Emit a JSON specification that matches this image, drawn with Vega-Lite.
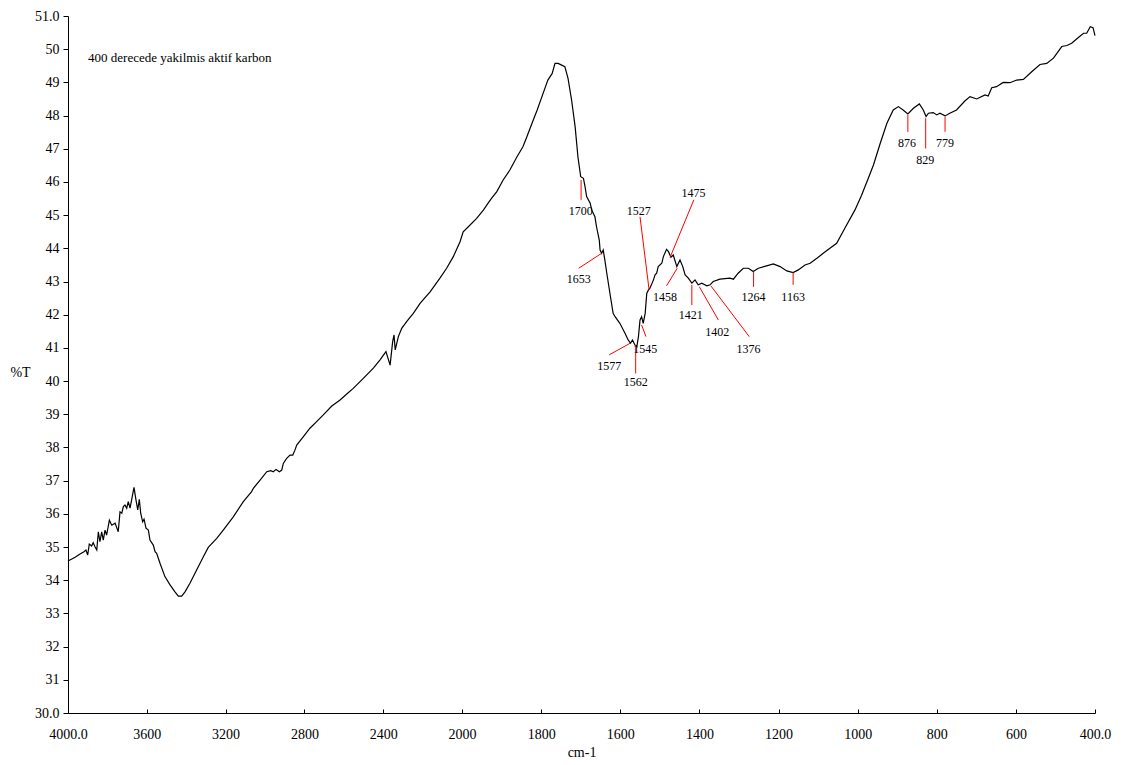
{
  "$schema": "https://vega.github.io/schema/vega-lite/v6.json",
  "width": 1027,
  "height": 697,
  "autosize": {"type": "none"},
  "padding": {"left": 68, "top": 16, "right": 36, "bottom": 52},
  "background": "white",
  "config": {
    "view": {"stroke": null},
    "font": "Liberation Serif",
    "axis": {
      "grid": false,
      "domainColor": "#000000",
      "tickColor": "#000000",
      "labelColor": "#000000",
      "titleColor": "#000000",
      "labelFont": "Liberation Serif",
      "titleFont": "Liberation Serif",
      "labelFontSize": 14,
      "titleFontSize": 14,
      "titleFontWeight": "normal",
      "labelFlush": false,
      "labelOverlap": false
    }
  },
  "datasets": {
    "spectrum": [
      {"wn": 4000, "T": 34.58}, {"wn": 3964, "T": 34.69}, {"wn": 3939, "T": 34.79}, {"wn": 3919, "T": 34.86},
      {"wn": 3909, "T": 34.91}, {"wn": 3900, "T": 34.76}, {"wn": 3892, "T": 35.09}, {"wn": 3880, "T": 35.03},
      {"wn": 3872, "T": 35.13}, {"wn": 3863, "T": 35.01}, {"wn": 3854, "T": 34.91}, {"wn": 3846, "T": 35.46},
      {"wn": 3838, "T": 35.16}, {"wn": 3829, "T": 35.46}, {"wn": 3821, "T": 35.21}, {"wn": 3812, "T": 35.51},
      {"wn": 3804, "T": 35.36}, {"wn": 3790, "T": 35.81}, {"wn": 3778, "T": 35.66}, {"wn": 3761, "T": 35.72},
      {"wn": 3745, "T": 35.46}, {"wn": 3736, "T": 36.06}, {"wn": 3727, "T": 36.02}, {"wn": 3719, "T": 36.22},
      {"wn": 3711, "T": 36.27}, {"wn": 3702, "T": 36.17}, {"wn": 3694, "T": 36.37}, {"wn": 3685, "T": 36.17},
      {"wn": 3677, "T": 36.42}, {"wn": 3665, "T": 36.8}, {"wn": 3655, "T": 36.42}, {"wn": 3646, "T": 36.12},
      {"wn": 3638, "T": 36.44}, {"wn": 3631, "T": 36.02}, {"wn": 3621, "T": 35.76}, {"wn": 3614, "T": 35.84},
      {"wn": 3604, "T": 35.57}, {"wn": 3592, "T": 35.51}, {"wn": 3584, "T": 35.21}, {"wn": 3567, "T": 35.06},
      {"wn": 3558, "T": 34.86}, {"wn": 3550, "T": 34.81}, {"wn": 3533, "T": 34.51}, {"wn": 3508, "T": 34.11},
      {"wn": 3482, "T": 33.86}, {"wn": 3457, "T": 33.65}, {"wn": 3440, "T": 33.52}, {"wn": 3423, "T": 33.52},
      {"wn": 3406, "T": 33.65}, {"wn": 3381, "T": 33.91}, {"wn": 3347, "T": 34.31}, {"wn": 3313, "T": 34.71},
      {"wn": 3288, "T": 34.99}, {"wn": 3245, "T": 35.26}, {"wn": 3212, "T": 35.51}, {"wn": 3161, "T": 35.91},
      {"wn": 3110, "T": 36.37}, {"wn": 3068, "T": 36.67}, {"wn": 3059, "T": 36.77}, {"wn": 3025, "T": 37.02},
      {"wn": 2991, "T": 37.27}, {"wn": 2971, "T": 37.3}, {"wn": 2958, "T": 37.27}, {"wn": 2944, "T": 37.34},
      {"wn": 2927, "T": 37.27}, {"wn": 2915, "T": 37.32}, {"wn": 2907, "T": 37.52}, {"wn": 2890, "T": 37.67},
      {"wn": 2873, "T": 37.77}, {"wn": 2859, "T": 37.77}, {"wn": 2848, "T": 37.92}, {"wn": 2839, "T": 38.07},
      {"wn": 2806, "T": 38.32}, {"wn": 2772, "T": 38.58}, {"wn": 2738, "T": 38.78}, {"wn": 2704, "T": 38.98},
      {"wn": 2661, "T": 39.25}, {"wn": 2619, "T": 39.43}, {"wn": 2585, "T": 39.61}, {"wn": 2552, "T": 39.78},
      {"wn": 2501, "T": 40.08}, {"wn": 2450, "T": 40.39}, {"wn": 2416, "T": 40.64}, {"wn": 2386, "T": 40.89},
      {"wn": 2365, "T": 40.48}, {"wn": 2352, "T": 41.19}, {"wn": 2345, "T": 41.39}, {"wn": 2339, "T": 40.94},
      {"wn": 2323, "T": 41.34}, {"wn": 2306, "T": 41.59}, {"wn": 2281, "T": 41.79}, {"wn": 2268, "T": 41.89},
      {"wn": 2247, "T": 42.04}, {"wn": 2213, "T": 42.34}, {"wn": 2162, "T": 42.69}, {"wn": 2112, "T": 43.1},
      {"wn": 2078, "T": 43.4}, {"wn": 2044, "T": 43.75}, {"wn": 2010, "T": 44.2}, {"wn": 1997, "T": 44.5},
      {"wn": 1984, "T": 44.65}, {"wn": 1963, "T": 44.9}, {"wn": 1946, "T": 45.15}, {"wn": 1934, "T": 45.36},
      {"wn": 1925, "T": 45.51}, {"wn": 1912, "T": 45.71}, {"wn": 1896, "T": 46.06}, {"wn": 1879, "T": 46.36},
      {"wn": 1861, "T": 46.76}, {"wn": 1846, "T": 47.06}, {"wn": 1836, "T": 47.36}, {"wn": 1823, "T": 47.77},
      {"wn": 1810, "T": 48.17}, {"wn": 1795, "T": 48.67}, {"wn": 1783, "T": 49.07}, {"wn": 1772, "T": 49.27},
      {"wn": 1765, "T": 49.57}, {"wn": 1757, "T": 49.57}, {"wn": 1748, "T": 49.52}, {"wn": 1740, "T": 49.47},
      {"wn": 1732, "T": 49.12}, {"wn": 1723, "T": 48.47}, {"wn": 1714, "T": 47.66}, {"wn": 1707, "T": 46.76},
      {"wn": 1700, "T": 46.16}, {"wn": 1693, "T": 46.11}, {"wn": 1689, "T": 45.86}, {"wn": 1685, "T": 45.56},
      {"wn": 1676, "T": 45.36}, {"wn": 1672, "T": 45.15}, {"wn": 1664, "T": 44.95}, {"wn": 1660, "T": 44.65},
      {"wn": 1653, "T": 44.25}, {"wn": 1651, "T": 43.95}, {"wn": 1647, "T": 43.85}, {"wn": 1643, "T": 43.95},
      {"wn": 1639, "T": 43.65}, {"wn": 1634, "T": 43.25}, {"wn": 1626, "T": 42.64}, {"wn": 1618, "T": 42.04},
      {"wn": 1613, "T": 41.94}, {"wn": 1601, "T": 41.74}, {"wn": 1588, "T": 41.44}, {"wn": 1580, "T": 41.24},
      {"wn": 1574, "T": 41.14}, {"wn": 1569, "T": 41.24}, {"wn": 1563, "T": 41.09}, {"wn": 1558, "T": 41.04},
      {"wn": 1554, "T": 41.34}, {"wn": 1550, "T": 41.84}, {"wn": 1546, "T": 41.94}, {"wn": 1542, "T": 41.74},
      {"wn": 1537, "T": 42.04}, {"wn": 1533, "T": 42.64}, {"wn": 1529, "T": 42.74}, {"wn": 1525, "T": 42.8},
      {"wn": 1516, "T": 43.05}, {"wn": 1512, "T": 43.2}, {"wn": 1508, "T": 43.25}, {"wn": 1504, "T": 43.45},
      {"wn": 1495, "T": 43.55}, {"wn": 1491, "T": 43.75}, {"wn": 1483, "T": 43.97}, {"wn": 1478, "T": 43.9},
      {"wn": 1472, "T": 43.73}, {"wn": 1466, "T": 43.8}, {"wn": 1457, "T": 43.45}, {"wn": 1449, "T": 43.65},
      {"wn": 1442, "T": 43.45}, {"wn": 1436, "T": 43.2}, {"wn": 1428, "T": 43.1}, {"wn": 1419, "T": 42.95},
      {"wn": 1411, "T": 43.05}, {"wn": 1403, "T": 42.9}, {"wn": 1394, "T": 42.95}, {"wn": 1381, "T": 42.87},
      {"wn": 1373, "T": 42.9}, {"wn": 1365, "T": 43.0}, {"wn": 1348, "T": 43.07}, {"wn": 1323, "T": 43.1},
      {"wn": 1314, "T": 43.07}, {"wn": 1302, "T": 43.25}, {"wn": 1289, "T": 43.4}, {"wn": 1276, "T": 43.4},
      {"wn": 1264, "T": 43.3}, {"wn": 1251, "T": 43.4}, {"wn": 1230, "T": 43.47}, {"wn": 1213, "T": 43.53},
      {"wn": 1196, "T": 43.45}, {"wn": 1179, "T": 43.32}, {"wn": 1163, "T": 43.27}, {"wn": 1150, "T": 43.35},
      {"wn": 1133, "T": 43.5}, {"wn": 1120, "T": 43.55}, {"wn": 1103, "T": 43.7}, {"wn": 1087, "T": 43.85},
      {"wn": 1070, "T": 44.0}, {"wn": 1053, "T": 44.15}, {"wn": 1032, "T": 44.61}, {"wn": 1007, "T": 45.15},
      {"wn": 990, "T": 45.6}, {"wn": 973, "T": 46.11}, {"wn": 960, "T": 46.51}, {"wn": 943, "T": 47.16},
      {"wn": 926, "T": 47.77}, {"wn": 910, "T": 48.17}, {"wn": 897, "T": 48.27}, {"wn": 885, "T": 48.17},
      {"wn": 873, "T": 48.05}, {"wn": 859, "T": 48.22}, {"wn": 844, "T": 48.35}, {"wn": 834, "T": 48.17},
      {"wn": 827, "T": 47.97}, {"wn": 821, "T": 48.07}, {"wn": 809, "T": 48.09}, {"wn": 800, "T": 48.02},
      {"wn": 792, "T": 48.07}, {"wn": 779, "T": 47.99}, {"wn": 767, "T": 48.07}, {"wn": 750, "T": 48.17},
      {"wn": 729, "T": 48.44}, {"wn": 716, "T": 48.57}, {"wn": 699, "T": 48.5}, {"wn": 678, "T": 48.62},
      {"wn": 670, "T": 48.59}, {"wn": 661, "T": 48.84}, {"wn": 649, "T": 48.87}, {"wn": 632, "T": 49.0},
      {"wn": 615, "T": 48.99}, {"wn": 598, "T": 49.07}, {"wn": 581, "T": 49.09}, {"wn": 560, "T": 49.32},
      {"wn": 539, "T": 49.54}, {"wn": 522, "T": 49.57}, {"wn": 505, "T": 49.73}, {"wn": 484, "T": 50.08},
      {"wn": 471, "T": 50.11}, {"wn": 459, "T": 50.18}, {"wn": 442, "T": 50.35}, {"wn": 429, "T": 50.48},
      {"wn": 421, "T": 50.48}, {"wn": 412, "T": 50.68}, {"wn": 405, "T": 50.65}, {"wn": 400, "T": 50.41}
    ],
    "peaks": [
      {"label": "1700", "x1": 1699, "y1": 46.06, "x2": 1699, "y2": 45.46, "lx": 1700, "ly": 45.13},
      {"label": "1653", "x1": 1647, "y1": 43.85, "x2": 1705, "y2": 43.4, "lx": 1705, "ly": 43.08},
      {"label": "1577", "x1": 1575, "y1": 41.14, "x2": 1628, "y2": 40.79, "lx": 1628, "ly": 40.45},
      {"label": "1562", "x1": 1561, "y1": 41.09, "x2": 1561, "y2": 40.23, "lx": 1561, "ly": 39.96},
      {"label": "1545", "x1": 1546, "y1": 41.69, "x2": 1535, "y2": 41.34, "lx": 1537, "ly": 40.97},
      {"label": "1527", "x1": 1527, "y1": 42.74, "x2": 1550, "y2": 44.95, "lx": 1553, "ly": 45.13},
      {"label": "1475", "x1": 1474, "y1": 43.73, "x2": 1414, "y2": 45.46, "lx": 1415, "ly": 45.66},
      {"label": "1458", "x1": 1456, "y1": 43.4, "x2": 1483, "y2": 42.87, "lx": 1487, "ly": 42.54},
      {"label": "1421", "x1": 1419, "y1": 42.9, "x2": 1419, "y2": 42.29, "lx": 1422, "ly": 41.99},
      {"label": "1402", "x1": 1400, "y1": 42.84, "x2": 1352, "y2": 41.84, "lx": 1355, "ly": 41.49},
      {"label": "1376", "x1": 1371, "y1": 42.87, "x2": 1274, "y2": 41.34, "lx": 1276, "ly": 40.97},
      {"label": "1264", "x1": 1263, "y1": 43.3, "x2": 1263, "y2": 42.84, "lx": 1263, "ly": 42.54},
      {"label": "1163", "x1": 1163, "y1": 43.28, "x2": 1163, "y2": 42.9, "lx": 1163, "ly": 42.54},
      {"label": "876", "x1": 873, "y1": 48.02, "x2": 873, "y2": 47.51, "lx": 875, "ly": 47.18},
      {"label": "829", "x1": 828, "y1": 47.92, "x2": 828, "y2": 47.01, "lx": 829, "ly": 46.66},
      {"label": "779", "x1": 779, "y1": 47.97, "x2": 779, "y2": 47.51, "lx": 779, "ly": 47.18}
    ],
    "note": [
      {"x": 3898, "y": 49.73, "text": "400 derecede yakilmis aktif karbon"}
    ]
  },
  "layer": [
    {
      "data": {"name": "spectrum"},
      "mark": {"type": "line", "color": "#000000", "strokeWidth": 1.2, "interpolate": "linear"},
      "encoding": {
        "x": {
          "field": "wn",
          "type": "quantitative",
          "title": "cm-1",
          "scale": {"domain": [4000, 2000, 400], "range": [0, 394, 1027], "zero": false, "nice": false},
          "axis": {
            "values": [4000, 3600, 3200, 2800, 2400, 2000, 1800, 1600, 1400, 1200, 1000, 800, 600, 400],
            "tickCount": 40,
            "format": "d",
            "labelExpr": "datum.value == 4000 ? '4000.0' : (datum.value == 400 ? '400.0' : datum.label)",
            "labelOverlap": false,
            "ticks": true,
            "tickWidth": 1,
            "tickSize": -4,
            "labelPadding": 18,
            "titleY": 39,
            "titleBaseline": "middle"
          }
        },
        "y": {
          "field": "T",
          "type": "quantitative",
          "title": "%T",
          "scale": {"domain": [30, 51], "zero": false, "nice": false},
          "axis": {
            "values": [30, 31, 32, 33, 34, 35, 36, 37, 38, 39, 40, 41, 42, 43, 44, 45, 46, 47, 48, 49, 50, 51],
            "tickCount": 40,
            "format": "d",
            "labelExpr": "datum.value == 51 ? '51.0' : (datum.value == 30 ? '30.0' : datum.label)",
            "labelOverlap": false,
            "ticks": true,
            "tickWidth": 1,
            "tickSize": 5,
            "labelPadding": 4,
            "titleAngle": 0,
            "titleX": -48,
            "titleY": 356,
            "titleAlign": "center",
            "titleBaseline": "middle"
          }
        }
      }
    },
    {
      "data": {"name": "peaks"},
      "mark": {"type": "rule", "color": "#ff0000", "strokeWidth": 1},
      "encoding": {
        "x": {"field": "x1", "type": "quantitative", "title": "cm-1"},
        "y": {"field": "y1", "type": "quantitative", "title": "%T"},
        "x2": {"field": "x2"},
        "y2": {"field": "y2"}
      }
    },
    {
      "data": {"name": "peaks"},
      "mark": {"type": "text", "font": "Liberation Serif", "fontSize": 12, "color": "#000000", "align": "center", "baseline": "middle"},
      "encoding": {
        "x": {"field": "lx", "type": "quantitative", "title": "cm-1"},
        "y": {"field": "ly", "type": "quantitative", "title": "%T"},
        "text": {"field": "label"}
      }
    },
    {
      "data": {"name": "note"},
      "mark": {"type": "text", "font": "Liberation Serif", "fontSize": 13, "color": "#000000", "align": "left", "baseline": "middle"},
      "encoding": {
        "x": {"field": "x", "type": "quantitative", "title": "cm-1"},
        "y": {"field": "y", "type": "quantitative", "title": "%T"},
        "text": {"field": "text"}
      }
    }
  ]
}
